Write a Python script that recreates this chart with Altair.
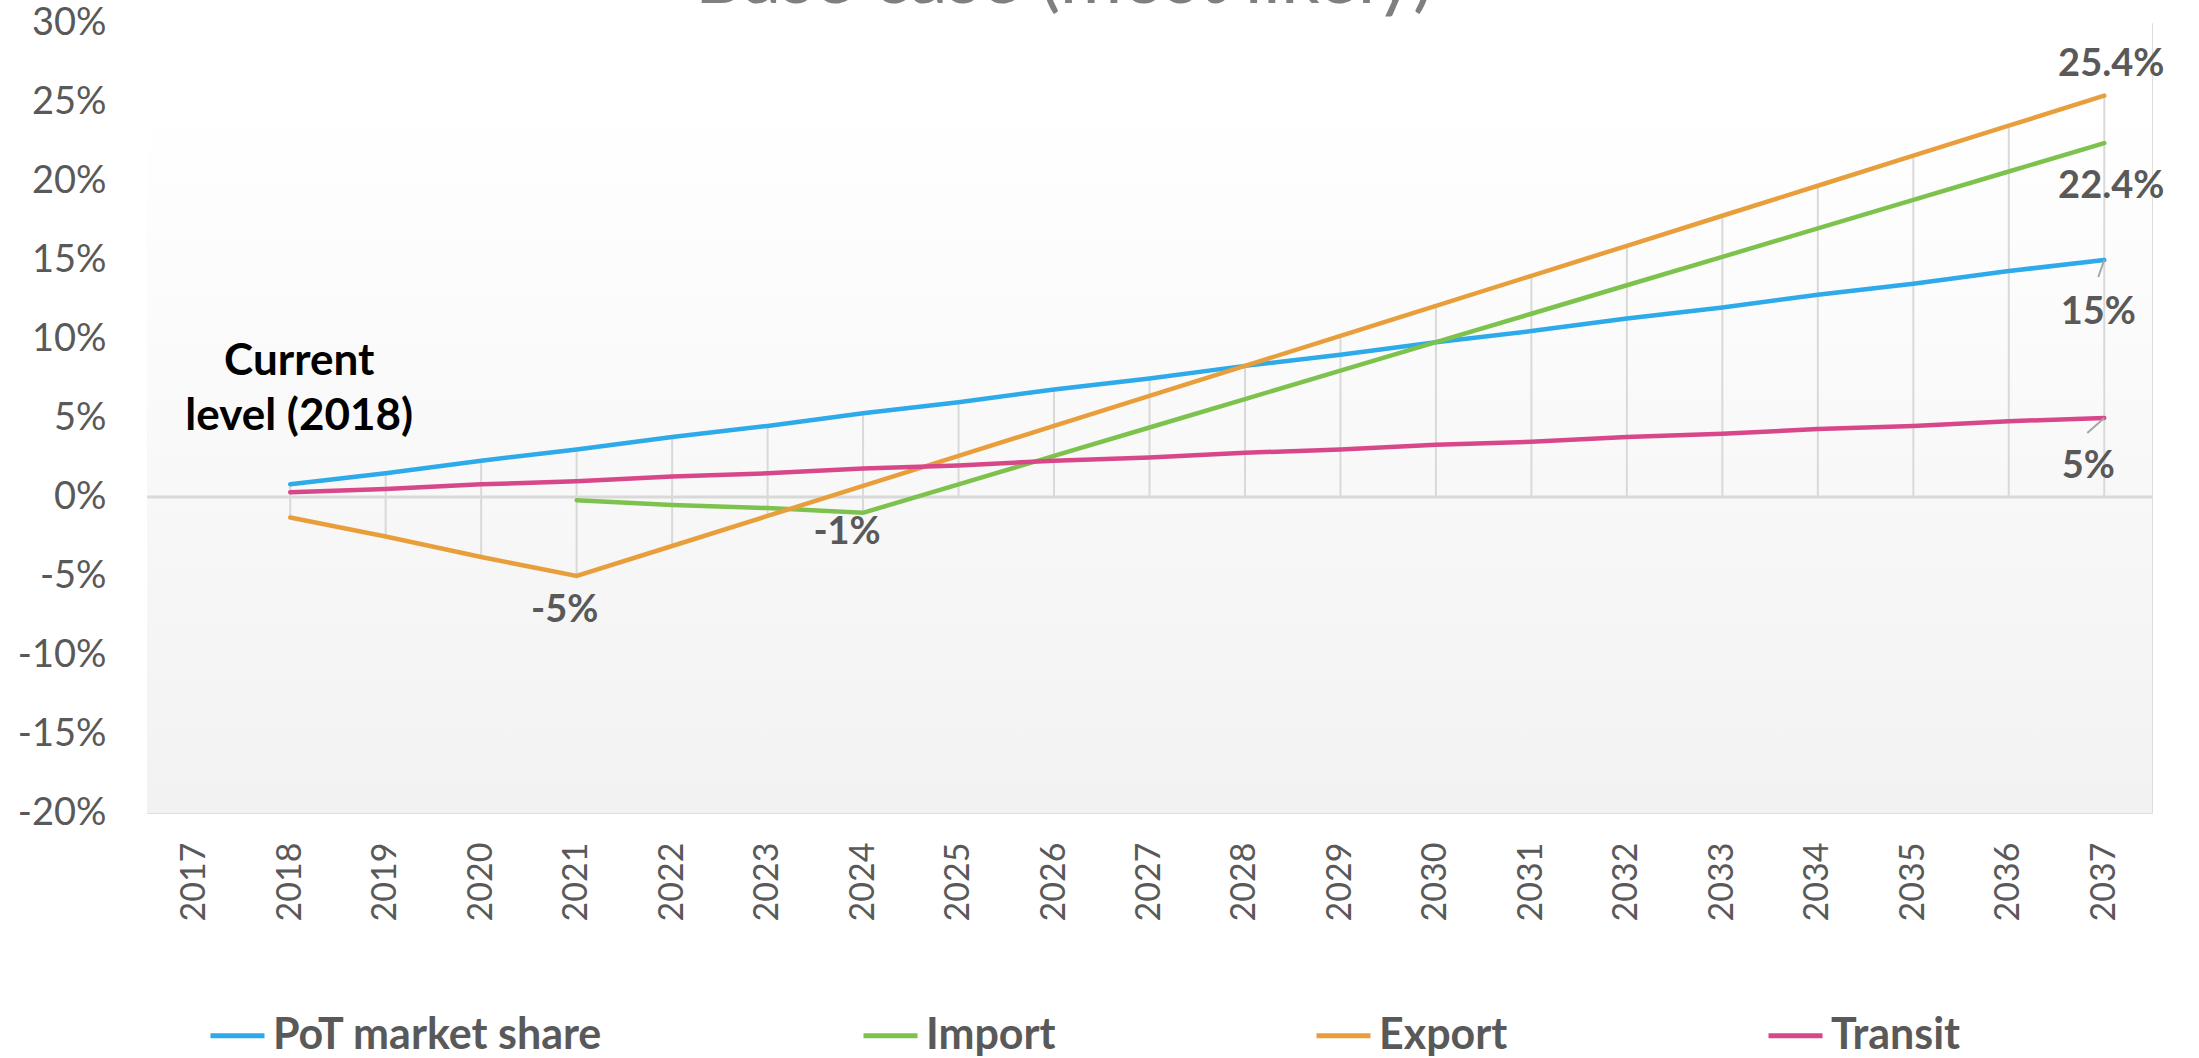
import altair as alt
import pandas as pd

# ---------------- data ----------------
years = [str(y) for y in range(2017, 2038)]
series_names = ["PoT market share", "Import", "Export", "Transit"]
series_colors = ["#2DAAE9", "#7DC24C", "#E89F3B", "#D8478A"]

pot = [None, 0.8, 1.5, 2.3, 3.0, 3.8, 4.5, 5.3, 6.0, 6.8, 7.5, 8.3, 9.0, 9.8, 10.5, 11.3, 12.0, 12.8, 13.5, 14.3, 15.0]
imp = [None, None, None, None, -0.2, -0.5, -0.7, -1.0, 0.8, 2.6, 4.4, 6.2, 8.0, 9.8, 11.6, 13.4, 15.2, 17.0, 18.8, 20.6, 22.4]
exp = [None, -1.3, -2.5, -3.8, -5.0, -3.1, -1.2, 0.7, 2.6, 4.5, 6.4, 8.3, 10.2, 12.1, 14.0, 15.9, 17.8, 19.7, 21.6, 23.5, 25.4]
tra = [None, 0.3, 0.5, 0.8, 1.0, 1.3, 1.5, 1.8, 2.0, 2.3, 2.5, 2.8, 3.0, 3.3, 3.5, 3.8, 4.0, 4.3, 4.5, 4.8, 5.0]

y_ticks = [-20, -15, -10, -5, 0, 5, 10, 15, 20, 25, 30]

label_series = ["Export", "Import", "PoT market share", "Transit", "Export", "Import"]
label_years = ["2037", "2037", "2037", "2037", "2021", "2024"]

title_text = "Base case (most likely)"
annotation_lines = ["Current", "level (2018)"]

rows = []
for name, vals in zip(series_names, [pot, imp, exp, tra]):
    for yr, v in zip(years, vals):
        if v is not None:
            rows.append({"year": yr, "series": name, "value": v})
df = pd.DataFrame(rows)

# ---------------- styling ----------------
FONT = "Lato"
GRAY = "#595959"
W, H = 2005, 790

x_scale = alt.Scale(type="point", domain=years, padding=0.5)
y_scale = alt.Scale(domain=[-20, 30], nice=False, zero=False)

x_axis = alt.Axis(title=None, labelAngle=270, grid=False, domain=False, ticks=False,
                  labelPadding=29, labelFontSize=34, labelFont=FONT, labelColor=GRAY)
y_axis = alt.Axis(title=None, values=y_ticks, labelExpr="datum.value + '%'", grid=False,
                  domain=False, ticks=False, labelPadding=41, labelFontSize=38,
                  labelFont=FONT, labelColor=GRAY)


def X():
    return alt.X("year:N", scale=x_scale, axis=x_axis)


def Y(field="value"):
    return alt.Y(f"{field}:Q", scale=y_scale, axis=y_axis)


base = alt.Chart(df)

bg = alt.Chart(alt.Data(values=[{}])).mark_rect(
    fill=alt.LinearGradient(
        gradient="linear",
        stops=[alt.GradientStop(color="#FFFFFF", offset=0),
               alt.GradientStop(color="#FFFFFF", offset=0.1),
               alt.GradientStop(color="#F2F2F2", offset=1)],
        x1=0, x2=0, y1=0, y2=1,
    )
).encode(x=alt.value(0), x2=alt.value("width"), y=alt.value(0), y2=alt.value("height"))

drop = base.transform_aggregate(
    hi="max(value)", lo="min(value)", groupby=["year"]
).transform_calculate(
    top="max(datum.hi, 0)", bot="min(datum.lo, 0)"
).mark_rule(color="#D9D9D9", strokeWidth=2).encode(
    x=X(), y=Y("top"), y2="bot:Q"
)

zero = alt.Chart(alt.Data(values=[{"z": 0}])).mark_rule(
    color="#D9D9D9", strokeWidth=3
).encode(y=Y("z"))

legend = alt.Legend(
    title=None, orient="none", legendX=61, legendY=983, direction="horizontal",
    symbolType="stroke", symbolSize=2916, symbolStrokeWidth=5,
    labelFontSize=43, labelFont=FONT, labelFontWeight="bold", labelColor=GRAY,
    labelOffset=6, columnPadding=250, labelLimit=0, padding=0,
)

lines = base.mark_line(strokeWidth=4.5, strokeCap="round").encode(
    x=X(), y=Y(),
    color=alt.Color("series:N", sort=series_names,
                    scale=alt.Scale(domain=series_names, range=series_colors),
                    legend=legend),
)

label_offsets = [(7, -31), (7, 44), (-6, 53), (-16, 49), (-12, 35), (-16, 20)]
label_layers = []
for s, yr, (dx, dy) in zip(label_series, label_years, label_offsets):
    label_layers.append(
        base.transform_filter((alt.datum.series == s) & (alt.datum.year == yr))
        .transform_calculate(label="datum.value + '%'")
        .mark_text(dx=dx, dy=dy, fontSize=38, fontWeight="bold", color=GRAY,
                   font=FONT, align="center", baseline="middle")
        .encode(x=X(), y=Y(), text="label:N")
    )

leader_layers = []
for s, (ox, oy) in [("PoT market share", (-6, 17)), ("Transit", (-17, 15))]:
    leader_layers.append(
        base.transform_filter((alt.datum.series == s) & (alt.datum.year == "2037"))
        .mark_rule(color="#A6A6A6", strokeWidth=2, x2Offset=ox, y2Offset=oy)
        .encode(x=X(), x2="year", y=Y(), y2="value")
    )

annotation = base.transform_filter(
    (alt.datum.series == "PoT market share") & (alt.datum.year == "2018")
).mark_text(
    text=annotation_lines, dx=9, dy=-109, fontSize=44, fontWeight="bold",
    color="#000000", font=FONT, align="center", baseline="alphabetic", lineHeight=55,
).encode(x=X(), y=Y())

title = alt.Chart(alt.Data(values=[{"t": title_text}])).mark_text(
    fontSize=76, color="#7F7F7F", font=FONT, align="center", baseline="alphabetic"
).encode(text="t:N", x=alt.value(917), y=alt.value(-20))

chart = alt.layer(
    bg, drop, zero, lines, *leader_layers, *label_layers, annotation, title
).properties(
    width=W, height=H,
    padding={"left": 147, "top": 23, "right": 47, "bottom": 245},
    autosize=alt.AutoSizeParams(type="none"),
    background="#FFFFFF",
).configure_view(stroke=None).configure(font=FONT)

chart.save("out.html", embed_options={"renderer": "svg", "actions": False})
